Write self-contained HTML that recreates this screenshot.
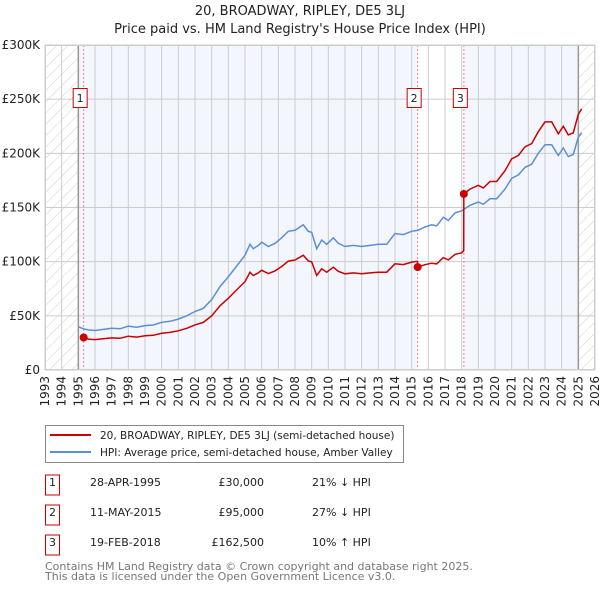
<!DOCTYPE html>
<html><head><meta charset="utf-8"><style>
body{margin:0;background:#fff;font-family:"Liberation Sans","DejaVu Sans",sans-serif;}
svg text{font-family:"DejaVu Sans","Liberation Sans",sans-serif;}
</style></head><body>
<svg id="chart" width="600" height="590" xmlns="http://www.w3.org/2000/svg">
<defs><pattern id="hatch" width="8" height="8" patternUnits="userSpaceOnUse" patternTransform="rotate(45)"><rect width="8" height="8" fill="#fff"/><line x1="0" y1="0" x2="0" y2="8" stroke="#d0d0d0" stroke-width="1"/></pattern></defs>
<text x="300" y="15" text-anchor="middle" font-size="13" fill="#222">20, BROADWAY, RIPLEY, DE5 3LJ</text>
<text x="300" y="33" text-anchor="middle" font-size="13" fill="#222">Price paid vs. HM Land Registry's House Price Index (HPI)</text>
<g id="plot"></g>
<g id="legend">
<rect x="45.5" y="425.5" width="358" height="37" fill="#fff" stroke="#888"/>
<line x1="50" y1="435" x2="91" y2="435" stroke="#cc0000" stroke-width="2"/>
<text x="100" y="439" font-size="10.5" fill="#222">20, BROADWAY, RIPLEY, DE5 3LJ (semi-detached house)</text>
<line x1="50" y1="452" x2="91" y2="452" stroke="#5b8fd4" stroke-width="2"/>
<text x="100" y="456" font-size="10.5" fill="#222">HPI: Average price, semi-detached house, Amber Valley</text>
</g>
<g id="table" font-size="11" fill="#222"></g>
<text x="45" y="570" font-size="11" fill="#777">Contains HM Land Registry data © Crown copyright and database right 2025.</text>
<text x="45" y="580" font-size="11" fill="#777">This data is licensed under the Open Government Licence v3.0.</text>
</svg>
<script>
const hpiDates=[1995.0,1995.3,1995.6,1996.0,1996.5,1997.0,1997.5,1998.0,1998.5,1999.0,1999.5,2000.0,2000.5,2001.0,2001.5,2002.0,2002.5,2003.0,2003.5,2004.0,2004.5,2005.0,2005.3,2005.5,2005.8,2006.0,2006.4,2006.8,2007.2,2007.6,2008.0,2008.5,2008.8,2009.0,2009.3,2009.6,2009.9,2010.3,2010.6,2011.0,2011.5,2012.0,2012.5,2013.0,2013.5,2014.0,2014.5,2015.0,2015.4,2015.8,2016.2,2016.5,2016.9,2017.2,2017.6,2018.0,2018.5,2019.0,2019.3,2019.7,2020.1,2020.6,2021.0,2021.4,2021.8,2022.2,2022.6,2023.0,2023.4,2023.8,2024.1,2024.4,2024.7,2025.0,2025.2];
const hpiValues=[40,38,37,36.5,37.5,38.5,38,40.5,39.5,41,41.5,44,45,47,50,54,57,65,77,86,96,106,116,112,115,118,114,117,122,128,129,134,128,127,112,120,116,122,117,114,115,114,115,116,116,126,125,128,129,132,134,133,141,138,145,147,152,155,153,158,158,167,177,180,187,190,200,208,208,198,205,197,199,215,219];
const priceDates=[1995.32,1995.6,1996.0,1996.5,1997.0,1997.5,1998.0,1998.5,1999.0,1999.5,2000.0,2000.5,2001.0,2001.5,2002.0,2002.5,2003.0,2003.5,2004.0,2004.5,2005.0,2005.3,2005.5,2005.8,2006.0,2006.4,2006.8,2007.2,2007.6,2008.0,2008.5,2008.8,2009.0,2009.3,2009.6,2009.9,2010.3,2010.6,2011.0,2011.5,2012.0,2012.5,2013.0,2013.5,2014.0,2014.5,2015.0,2015.35,2015.36,2015.8,2016.2,2016.5,2016.9,2017.2,2017.6,2018.0,2018.12,2018.13,2018.5,2019.0,2019.3,2019.7,2020.1,2020.6,2021.0,2021.4,2021.8,2022.2,2022.6,2023.0,2023.4,2023.8,2024.1,2024.4,2024.7,2025.0,2025.2];
const priceValues=[30,28.5,28.1,28.9,29.6,29.3,31.2,30.4,31.6,32,33.9,34.7,36.2,38.5,41.6,43.9,50,59.3,66.2,73.9,81.6,90.3,87.2,89.6,92,89,91.5,95.5,100.5,101.5,106,100.6,99.8,87.2,93.4,90.3,94.9,91.1,88.8,89.6,88.8,89.6,90.3,90.3,98,97.3,99.6,100.3,95,97.2,98.6,97.9,103.8,101.6,106.7,108.2,110,162.5,167,170.5,168,174,174,184,195,198,206,209,220,229,229,218,225,217,219,236,241];
const saleLabels=["1","2","3"];
const saleDates=[1995.32,2015.36,2018.13];
const saleValues=[30,95,162.5];
const saleDateText=["28-APR-1995","11-MAY-2015","19-FEB-2018"];
const salePriceText=["£30,000","£95,000","£162,500"];
const saleHpiText=["21% ↓ HPI","27% ↓ HPI","10% ↑ HPI"];
const yTicks=[0,50,100,150,200,250,300];
const yTickLabels=["£0","£50K","£100K","£150K","£200K","£250K","£300K"];
const xTicks=[1993,1994,1995,1996,1997,1998,1999,2000,2001,2002,2003,2004,2005,2006,2007,2008,2009,2010,2011,2012,2013,2014,2015,2016,2017,2018,2019,2020,2021,2022,2023,2024,2025,2026];

const NS="http://www.w3.org/2000/svg";
const X0=45,X1=595,Y0=370,Y1=45;
const xs=t=>X0+(t-1993)/(2026-1993)*(X1-X0);
const ys=v=>Y0-(v/300)*(Y0-Y1);
const plot=document.getElementById('plot');
function mk(tag,attrs,parent){const e=document.createElementNS(NS,tag);for(const k in attrs)e.setAttribute(k,attrs[k]);(parent||plot).appendChild(e);return e;}
let e;
e=mk('rect',{x:X0,y:Y1,width:X1-X0,height:Y0-Y1,fill:'#f3f6fd'});


e=mk('rect',{x:xs(saleDates[1]),y:Y1,width:xs(saleDates[2])-xs(saleDates[1]),height:Y0-Y1,fill:'#fff'});


e=mk('rect',{x:X0,y:Y1,width:xs(1995)-X0,height:Y0-Y1,fill:'url(#hatch)'});


e=mk('rect',{x:xs(2025),y:Y1,width:X1-xs(2025),height:Y0-Y1,fill:'url(#hatch)'});


xTicks.forEach(t=>{
  e=mk('line',{x1:xs(t),x2:xs(t),y1:Y1,y2:Y0,stroke:'#ccc','stroke-width':1});
  
  
  e=mk('text',{x:0,y:0,'font-size':12,fill:'#222','text-anchor':'end',transform:`translate(${xs(t)+4},${Y0+6}) rotate(-90)`});
  e.textContent=t;
  
  
});
yTicks.forEach((v,i)=>{
  e=mk('line',{x1:X0,x2:X1,y1:ys(v),y2:ys(v),stroke:'#ccc','stroke-width':1});
  
  
  e=mk('text',{x:40,y:ys(v)+4,'font-size':12,fill:'#222','text-anchor':'end'});
  e.textContent=yTickLabels[i];
  
  
});
e=mk('line',{x1:xs(1995),x2:xs(1995),y1:Y1,y2:Y0,stroke:'#999','stroke-width':1.5});


e=mk('line',{x1:xs(2025),x2:xs(2025),y1:Y1,y2:Y0,stroke:'#999','stroke-width':1.5});


saleDates.forEach((d,i)=>{
  e=mk('line',{x1:xs(d),x2:xs(d),y1:Y1,y2:Y0,stroke:'#f08080','stroke-width':1,'stroke-dasharray':'2,2'});
  
  
});
const pathOf=(ds,vs)=>ds.map((d,i)=>(i?'L':'M')+xs(d).toFixed(1)+','+ys(vs[i]).toFixed(1)).join('');
e=mk('path',{d:pathOf(hpiDates,hpiValues),fill:'none',stroke:'#5b8fd4','stroke-width':1.5});


e=mk('path',{d:pathOf(priceDates,priceValues),fill:'none',stroke:'#cc0000','stroke-width':1.5});


saleDates.forEach((d,i)=>{
  e=mk('circle',{cx:xs(d),cy:ys(saleValues[i]),r:4,fill:'#cc0000'});
  
  
  e=mk('rect',{x:xs(d)-10.5,y:88.5,width:14,height:19,fill:'#fff',stroke:'#cc0000'});
  
  
  e=mk('text',{x:xs(d)-3.5,y:102,'font-size':11,fill:'#222','text-anchor':'middle'});
  e.textContent=saleLabels[i];
  
  
});
e=mk('rect',{x:X0+0.5,y:Y1+0.5,width:X1-X0-1,height:Y0-Y1-1,fill:'none',stroke:'#ccc'});


const tbl=document.getElementById('table');
saleLabels.forEach((l,i)=>{
  const cy=485+i*30;
  e=mk('rect',{x:45.5,y:cy-10,width:14,height:20,fill:'#fff',stroke:'#cc0000'},tbl);
  
  
  e=mk('text',{x:52.5,y:cy+1,'text-anchor':'middle'},tbl);e.textContent=l;
  
  
  e=mk('text',{x:90,y:cy+1},tbl);e.textContent=saleDateText[i];
  
  
  e=mk('text',{x:264,y:cy+1,'text-anchor':'end'},tbl);e.textContent=salePriceText[i];
  
  
  e=mk('text',{x:312,y:cy+1},tbl);e.textContent=saleHpiText[i];
  
  
});
</script>
</body></html>
